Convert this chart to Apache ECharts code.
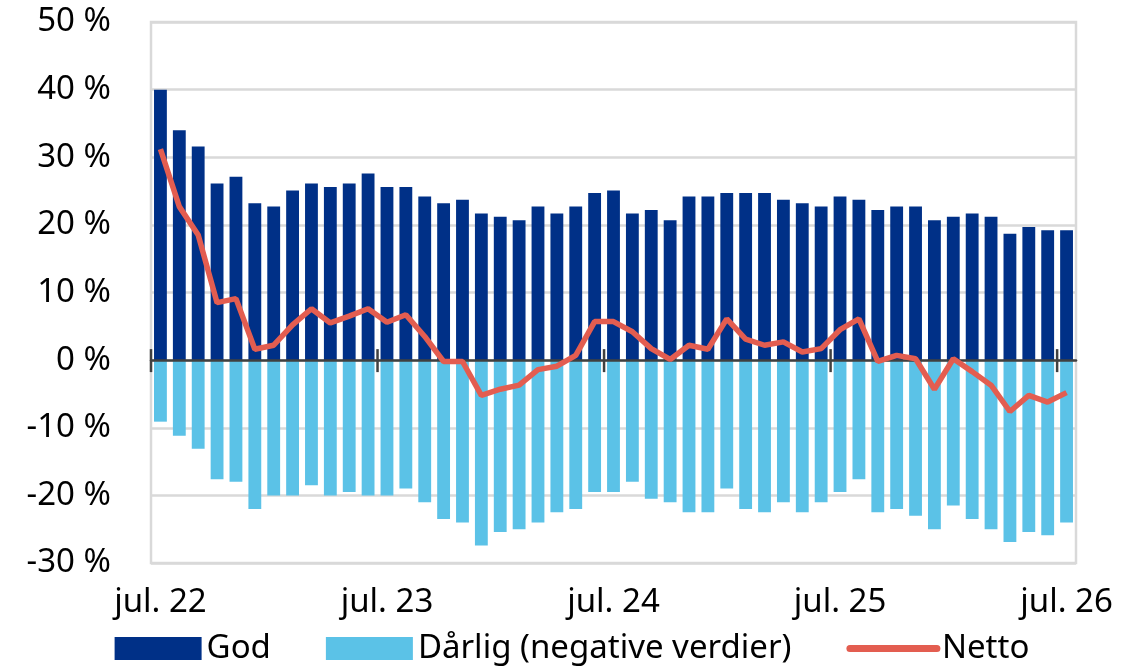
<!DOCTYPE html>
<html>
<head>
<meta charset="utf-8">
<script src="https://cdn.jsdelivr.net/npm/echarts@6/dist/echarts.min.js"></script>
<style>
html,body{margin:0;padding:0;background:#fff;}
#chart{width:1144px;height:666px;}
</style>
</head>
<body>
<div id="chart"></div>
<script>
const categories = [
  'jul. 22','aug. 22','sep. 22','okt. 22','nov. 22','des. 22','jan. 23','feb. 23','mar. 23','apr. 23','mai 23','jun. 23',
  'jul. 23','aug. 23','sep. 23','okt. 23','nov. 23','des. 23','jan. 24','feb. 24','mar. 24','apr. 24','mai 24','jun. 24',
  'jul. 24','aug. 24','sep. 24','okt. 24','nov. 24','des. 24','jan. 25','feb. 25','mar. 25','apr. 25','mai 25','jun. 25',
  'jul. 25','aug. 25','sep. 25','okt. 25','nov. 25','des. 25','jan. 26','feb. 26','mar. 26','apr. 26','mai 26','jun. 26',
  'jul. 26'
];
const god = [
  40.0, 34.0, 31.6, 26.1, 27.1, 23.2, 22.7, 25.1, 26.1, 25.6, 26.1, 27.6,
  25.6, 25.6, 24.2, 23.2, 23.7, 21.7, 21.2, 20.7, 22.7, 21.7, 22.7, 24.7,
  25.1, 21.7, 22.2, 20.7, 24.2, 24.2, 24.7, 24.7, 24.7, 23.7, 23.2, 22.7,
  24.2, 23.7, 22.2, 22.7, 22.7, 20.7, 21.2, 21.7, 21.2, 18.7, 19.7, 19.2,
  19.2
];
const darlig = [
  -9.1, -11.2, -13.1, -17.6, -18.0, -22.0, -20.0, -20.0, -18.5, -20.0, -19.5, -20.0,
  -20.0, -19.0, -21.0, -23.5, -24.0, -27.4, -25.4, -25.0, -24.0, -22.5, -22.0, -19.5,
  -19.5, -18.0, -20.5, -21.0, -22.5, -22.5, -19.0, -22.0, -22.5, -21.0, -22.5, -21.0,
  -19.5, -17.6, -22.5, -22.0, -23.0, -25.0, -21.5, -23.5, -25.0, -26.9, -25.4, -25.9,
  -24.0
];
const netto = [
  31.2, 22.7, 18.5, 8.5, 9.1, 1.6, 2.2, 5.2, 7.6, 5.5, 6.5, 7.6,
  5.6, 6.7, 3.5, -0.2, -0.2, -5.2, -4.3, -3.7, -1.4, -0.9, 0.7, 5.7,
  5.7, 4.2, 1.7, 0.1, 2.2, 1.6, 6.1, 3.1, 2.2, 2.7, 1.2, 1.7,
  4.5, 6.1, -0.2, 0.7, 0.2, -4.3, 0.2, -1.7, -3.7, -7.6, -5.2, -6.2,
  -4.8
];
const seriesNames = ['God', 'Dårlig (negative verdier)', 'Netto'];
const yMin = -30, yMax = 50, yStep = 10;

const tickIdx = categories.map((c, i) => c.startsWith('jul.') ? i : -1).filter(i => i >= 0);

const FONT = '"Noto Sans", "Open Sans", sans-serif';
const RED = '#E35D50';
const chart = echarts.init(document.getElementById('chart'), null, {renderer: 'canvas'});
chart.setOption({
  animation: false,
  backgroundColor: '#ffffff',
  textStyle: {fontFamily: FONT},
  grid: {left: 151, right: 68, top: 22, bottom: 103, outerBoundsMode: 'none', containLabel: false,
         show: true, borderColor: '#D9D9D9', borderWidth: 2.5, backgroundColor: 'transparent'},
  legend: {
    data: [
      {name: seriesNames[0], icon: 'rect'},
      {name: seriesNames[1], icon: 'rect'},
      {name: seriesNames[2], itemStyle: {opacity: 0}, lineStyle: {width: 7, color: RED, cap: 'round'}}
    ],
    left: 'center',
    top: 627,
    itemWidth: 87,
    itemHeight: 23,
    itemGap: 55,
    textStyle: {fontSize: 33, color: '#000', fontFamily: FONT},
  },
  xAxis: [
    {
      type: 'category',
      data: categories,
      position: 'bottom',
      axisLine: {show: false, onZero: false},
      axisTick: {show: false},
      axisLabel: {interval: 11, margin: 23, fontSize: 33, color: '#000', fontFamily: FONT},
      splitLine: {show: false}
    },
    {
      type: 'category',
      data: categories,
      position: 'top',
      z: 3,
      axisLine: {show: true, onZero: true, lineStyle: {color: '#404040', width: 2.5}},
      axisTick: {show: false},
      axisLabel: {show: false},
      splitLine: {show: false}
    }
  ],
  yAxis: {
    type: 'value',
    min: yMin, max: yMax, interval: yStep,
    axisLine: {show: false},
    axisTick: {show: false},
    axisLabel: {formatter: v => v + ' %', fontSize: 33, color: '#000', margin: 40, fontFamily: FONT},
    splitLine: {lineStyle: {color: '#D9D9D9', width: 2.5}}
  },
  series: [
    {
      name: seriesNames[0], type: 'bar', stack: 'a', data: god,
      barWidth: '68%', itemStyle: {color: '#003087'}, z: 2
    },
    {
      name: seriesNames[1], type: 'bar', stack: 'a', data: darlig,
      barWidth: '68%', itemStyle: {color: '#5BC2E7'}, z: 2
    },
    {
      name: 'ticks', type: 'custom', z: 4, silent: true,
      data: tickIdx.map(i => [i, 0]),
      renderItem: function (params, api) {
        const p = api.coord([api.value(0), 0]);
        const w = api.size([1, 0])[0];
        const x = p[0] - w / 2;
        return {type: 'line', shape: {x1: x, y1: p[1] - 11, x2: x, y2: p[1] + 12}, style: {stroke: '#404040', lineWidth: 2.5}};
      }
    },
    {
      name: seriesNames[2], type: 'line', data: netto, z: 5,
      symbol: 'none', showSymbol: false,
      lineStyle: {color: RED, width: 5.5},
      itemStyle: {color: RED}
    }
  ]
});
</script>
</body>
</html>
